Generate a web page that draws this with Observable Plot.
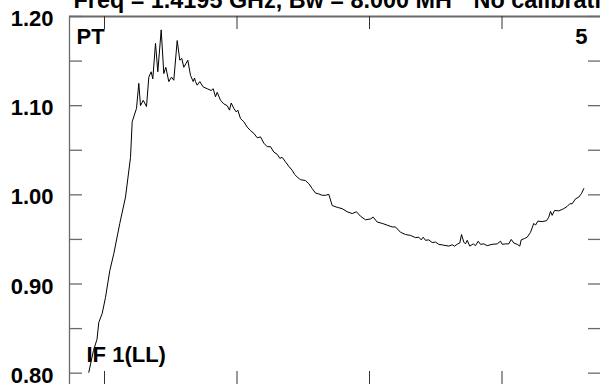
<!DOCTYPE html>
<html>
<head>
<meta charset="utf-8">
<script src="https://cdn.jsdelivr.net/npm/d3@7"></script>
<script src="https://cdn.jsdelivr.net/npm/@observablehq/plot@0.6"></script>
<style>
  html, body { margin: 0; padding: 0; background: #fff; }
  #chart { width: 600px; height: 384px; overflow: hidden; }
</style>
</head>
<body>
<div id="chart"></div>
<script>
const titleLeft = "Freq = 1.4195 GHz, Bw = 8.000 MH";
const titleRight = "No calibration";
const labelTopLeft = "PT";
const labelTopRight = "5";
const labelBottomLeft = "IF 1(LL)";

const channel = [
  19.3, 24, 27.5, 29.3, 32.7, 36, 40.3, 44.3, 50.3, 56, 61, 62.7, 67, 69.3, 71, 73.7, 77, 79.3,
  81.7, 83.3, 86, 88.3, 91.7, 94.3, 96.3, 99.3, 102, 104.3, 107.7, 110.3, 112.3, 114.3, 116.3,
  118.3, 121, 123.7, 125, 126, 127.7, 130.3, 133.7, 137.7, 141.7, 143.7, 146, 147.7, 151, 154.3,
  157.7, 160, 161.7, 164.3, 166.7, 168.3, 171, 174.3, 177.7, 181, 184.3, 187.7, 191, 194.3, 197.7,
  201, 204.3, 207.7, 210.3, 212.7, 216, 219.3, 222.7, 225, 227.7, 231, 236, 239.3, 242.7, 246,
  249.3, 252.7, 256, 259.3, 262.7, 267.7, 272.7, 277.7, 282.7, 287, 291, 296, 301, 303.7, 307.7,
  312.7, 317.7, 322.7, 326, 331, 336, 341, 346, 349.3, 351.7, 353.7, 356, 359.3, 362.7, 366,
  369.3, 374.3, 379.3, 382.7, 385, 388.3, 390.3, 392, 394.3, 396, 397.7, 400.3, 403.7, 406,
  408.7, 411, 414.3, 417.7, 422.7, 427.7, 431, 432.7, 436, 439.3, 441.7, 444.3, 447.7, 450.3,
  451.7, 455, 457.7, 461, 464.3, 466, 468.3, 472.7, 477, 479.3, 481, 482.7, 485, 489.3, 494.3,
  497.7, 500.3, 502.7, 506, 509.3, 512, 514.3
];
const power = [
  0.801, 0.8255, 0.838, 0.857, 0.867, 0.885, 0.915, 0.934, 0.968, 0.9975, 1.042, 1.082, 1.097,
  1.125, 1.100, 1.106, 1.099, 1.132, 1.138, 1.130, 1.170, 1.138, 1.185, 1.136, 1.143, 1.127,
  1.132, 1.1285, 1.173, 1.151, 1.153, 1.143, 1.147, 1.151, 1.134, 1.127, 1.131, 1.127, 1.123,
  1.127, 1.121, 1.119, 1.117, 1.119, 1.110, 1.115, 1.106, 1.102, 1.100, 1.095, 1.103, 1.097,
  1.093, 1.095, 1.0855, 1.082, 1.076, 1.072, 1.069, 1.064, 1.065, 1.058, 1.054, 1.054, 1.048,
  1.0455, 1.041, 1.042, 1.037, 1.032, 1.0275, 1.023, 1.020, 1.017, 1.016, 1.0125, 1.007, 1.002,
  1.001, 0.9995, 0.9995, 1.0005, 0.988, 0.986, 0.9845, 0.981, 0.979, 0.981, 0.976, 0.972, 0.973,
  0.975, 0.9695, 0.968, 0.966, 0.964, 0.964, 0.958, 0.9555, 0.9545, 0.952, 0.9525, 0.9495,
  0.9525, 0.949, 0.9495, 0.9465, 0.947, 0.9445, 0.9435, 0.9425, 0.944, 0.9425, 0.945, 0.946,
  0.9555, 0.947, 0.945, 0.949, 0.9425, 0.945, 0.943, 0.948, 0.9445, 0.945, 0.943, 0.9445, 0.945,
  0.948, 0.9445, 0.945, 0.945, 0.950, 0.946, 0.9445, 0.9425, 0.9495, 0.951, 0.9525, 0.958,
  0.968, 0.966, 0.9705, 0.970, 0.971, 0.975, 0.9815, 0.977, 0.9825, 0.982, 0.9845, 0.987, 0.990,
  0.990, 0.9955, 0.9975, 1.0015, 1.007
];
const yTicks = [0.80, 0.85, 0.90, 0.95, 1.00, 1.05, 1.10, 1.15, 1.20];
const yLabels = [0.80, 0.90, 1.00, 1.10, 1.20];
const xTicks = [35, 167.5, 300, 432.5];
const xDomain = [0, 531];
const yDomain = [0.7873, 1.2];

const spectrum = channel.map((c, i) => ({channel: c, power: power[i]}));

const W = 600, H = 384, ML = 69, MT = 16;
const plotW = W - ML, plotH = H - MT;
const font = "'Liberation Sans', Arial, Helvetica, sans-serif";
const axisColor = "#6a6a6a";

const chart = Plot.plot({
  width: W,
  height: H,
  marginLeft: ML,
  marginTop: MT,
  marginRight: 0,
  marginBottom: 0,
  style: {fontFamily: font, background: "#fff", overflow: "visible"},
  x: {domain: xDomain, axis: null},
  y: {domain: yDomain, axis: null},
  marks: [
    // frame (left and top sides)
    Plot.ruleX([xDomain[0]], {stroke: axisColor, strokeWidth: 1.3}),
    Plot.ruleY([yDomain[1]], {stroke: axisColor, strokeWidth: 2}),
    // y ticks inward on left and right
    Plot.tickY(yTicks, {y: d => d, insetRight: plotW - 13, stroke: axisColor, strokeWidth: 1.3}),
    Plot.tickY(yTicks, {y: d => d, insetLeft: plotW - 12, stroke: axisColor, strokeWidth: 1.3}),
    // x ticks inward on top and bottom
    Plot.tickX(xTicks, {x: d => d, insetBottom: plotH - 13, stroke: "#333", strokeWidth: 1}),
    Plot.tickX(xTicks, {x: d => d, insetTop: plotH - 13, stroke: "#333", strokeWidth: 1}),
    // y tick labels
    Plot.text(yLabels, {y: d => d, text: d => d.toFixed(2), frameAnchor: "left", textAnchor: "end",
      dx: -16, dy: 2.5, fontSize: 22, fontWeight: "bold", fill: "#000"}),
    // spectrum line
    Plot.line(spectrum, {x: "channel", y: "power", stroke: "#000", strokeWidth: 1}),
    // title (cut at the top, as in the reference)
    Plot.text([titleLeft], {text: d => d, frameAnchor: "top-left", textAnchor: "start", lineAnchor: "bottom",
      dx: 4, dy: -9, fontSize: 23.4, fontWeight: "bold", fill: "#000"}),
    Plot.text([titleRight], {text: d => d, frameAnchor: "top-left", textAnchor: "start", lineAnchor: "bottom",
      dx: 404, dy: -9, fontSize: 23.4, fontWeight: "bold", fill: "#000"}),
    // in-plot labels
    Plot.text([labelTopLeft], {text: d => d, frameAnchor: "top-left", textAnchor: "start", lineAnchor: "bottom",
      dx: 7, dy: 27, fontSize: 22, fontWeight: "bold", fill: "#000"}),
    Plot.text([labelTopRight], {text: d => d, frameAnchor: "top-right", textAnchor: "end", lineAnchor: "bottom",
      dx: -13, dy: 27, fontSize: 22, fontWeight: "bold", fill: "#000"}),
    Plot.text([labelBottomLeft], {text: d => d, frameAnchor: "bottom-left", textAnchor: "start", lineAnchor: "bottom",
      dx: 17, dy: -23, fontSize: 22, fontWeight: "bold", fill: "#000"})
  ]
});
document.getElementById("chart").appendChild(chart);
</script>
</body>
</html>
